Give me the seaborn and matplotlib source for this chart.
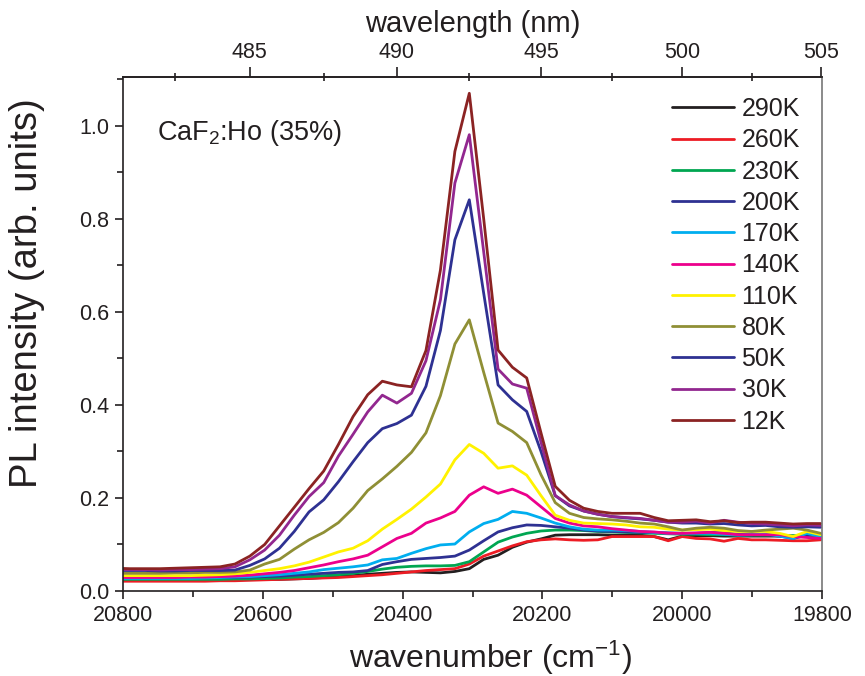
import numpy as np
import pandas as pd
import matplotlib
matplotlib.use("Agg")
import matplotlib.pyplot as plt
from matplotlib.ticker import MultipleLocator, FixedLocator
import seaborn as sns

# ---------------- data ----------------
wavelength_nm = np.arange(480.5, 505.01, 0.5)  # sampling grid (0.5 nm steps)

labels = ["290K", "260K", "230K", "200K", "170K", "140K", "110K", "80K", "50K", "30K", "12K"]
colors = ["#231f20", "#ed1c24", "#00a651", "#2e3192", "#00aeef", "#ec008c",
          "#fff200", "#8f8f35", "#2e3192", "#92278f", "#8b2323"]

I_290K = [0.024, 0.024, 0.024, 0.024, 0.024, 0.024, 0.024, 0.024, 0.025, 0.025,
          0.025, 0.025, 0.026, 0.027, 0.029, 0.031, 0.033, 0.036, 0.038, 0.040,
          0.041, 0.040, 0.039, 0.042, 0.048, 0.068, 0.077, 0.094, 0.105, 0.112,
          0.120, 0.121, 0.121, 0.121, 0.120, 0.120, 0.120, 0.117, 0.110, 0.118,
          0.119, 0.119, 0.118, 0.118, 0.118, 0.118, 0.118, 0.118, 0.117, 0.118]
I_260K = [0.021, 0.021, 0.021, 0.021, 0.021, 0.021, 0.021, 0.022, 0.022, 0.023,
          0.024, 0.025, 0.026, 0.027, 0.028, 0.029, 0.031, 0.033, 0.035, 0.038,
          0.041, 0.044, 0.046, 0.048, 0.058, 0.075, 0.086, 0.097, 0.106, 0.110,
          0.112, 0.110, 0.109, 0.110, 0.117, 0.117, 0.117, 0.117, 0.108, 0.117,
          0.113, 0.112, 0.107, 0.113, 0.110, 0.110, 0.109, 0.108, 0.108, 0.110]
I_230K = [0.025, 0.025, 0.025, 0.025, 0.025, 0.025, 0.025, 0.025, 0.026, 0.026,
          0.027, 0.028, 0.030, 0.031, 0.033, 0.035, 0.038, 0.042, 0.047, 0.051,
          0.053, 0.054, 0.054, 0.055, 0.063, 0.084, 0.105, 0.116, 0.124, 0.129,
          0.131, 0.131, 0.130, 0.128, 0.127, 0.126, 0.125, 0.124, 0.123, 0.122,
          0.122, 0.121, 0.121, 0.120, 0.120, 0.120, 0.119, 0.119, 0.119, 0.118]
I_200K = [0.030, 0.030, 0.030, 0.029, 0.029, 0.029, 0.029, 0.029, 0.029, 0.030,
          0.031, 0.032, 0.034, 0.036, 0.038, 0.040, 0.041, 0.044, 0.057, 0.063,
          0.068, 0.070, 0.072, 0.075, 0.088, 0.108, 0.127, 0.136, 0.142, 0.141,
          0.138, 0.135, 0.131, 0.129, 0.128, 0.127, 0.126, 0.126, 0.125, 0.124,
          0.124, 0.126, 0.125, 0.122, 0.121, 0.121, 0.118, 0.113, 0.120, 0.122]
I_170K = [0.027, 0.027, 0.027, 0.027, 0.027, 0.027, 0.028, 0.029, 0.030, 0.031,
          0.033, 0.035, 0.038, 0.041, 0.046, 0.049, 0.052, 0.056, 0.067, 0.070,
          0.081, 0.091, 0.099, 0.101, 0.127, 0.145, 0.154, 0.171, 0.167, 0.157,
          0.146, 0.138, 0.133, 0.131, 0.131, 0.130, 0.128, 0.126, 0.124, 0.124,
          0.124, 0.124, 0.122, 0.120, 0.121, 0.123, 0.118, 0.113, 0.124, 0.117]
I_140K = [0.029, 0.029, 0.029, 0.029, 0.029, 0.030, 0.030, 0.031, 0.032, 0.034,
          0.037, 0.040, 0.044, 0.050, 0.056, 0.063, 0.069, 0.077, 0.095, 0.113,
          0.124, 0.146, 0.157, 0.171, 0.206, 0.224, 0.210, 0.219, 0.206, 0.181,
          0.156, 0.146, 0.140, 0.138, 0.134, 0.131, 0.128, 0.127, 0.124, 0.124,
          0.125, 0.126, 0.124, 0.121, 0.121, 0.121, 0.121, 0.117, 0.115, 0.113]
I_110K = [0.033, 0.033, 0.033, 0.033, 0.033, 0.033, 0.034, 0.035, 0.037, 0.040,
          0.044, 0.048, 0.054, 0.062, 0.073, 0.084, 0.092, 0.108, 0.133, 0.154,
          0.176, 0.202, 0.230, 0.282, 0.315, 0.296, 0.264, 0.269, 0.249, 0.205,
          0.163, 0.152, 0.146, 0.145, 0.144, 0.142, 0.138, 0.137, 0.133, 0.131,
          0.132, 0.133, 0.130, 0.128, 0.128, 0.128, 0.124, 0.117, 0.128, 0.121]
I_80K = [0.038, 0.038, 0.038, 0.038, 0.039, 0.039, 0.040, 0.040, 0.041, 0.045,
         0.058, 0.068, 0.090, 0.110, 0.126, 0.147, 0.178, 0.216, 0.241, 0.268,
         0.298, 0.340, 0.420, 0.531, 0.583, 0.470, 0.361, 0.343, 0.319, 0.250,
         0.190, 0.167, 0.158, 0.155, 0.153, 0.150, 0.146, 0.144, 0.138, 0.131,
         0.135, 0.137, 0.135, 0.130, 0.128, 0.131, 0.133, 0.135, 0.131, 0.124]
I_50K = [0.044, 0.044, 0.044, 0.043, 0.043, 0.044, 0.044, 0.044, 0.045, 0.055,
         0.069, 0.092, 0.128, 0.170, 0.196, 0.235, 0.278, 0.319, 0.349, 0.360,
         0.378, 0.440, 0.560, 0.755, 0.841, 0.640, 0.443, 0.411, 0.386, 0.300,
         0.205, 0.183, 0.172, 0.165, 0.160, 0.157, 0.155, 0.152, 0.148, 0.146,
         0.146, 0.144, 0.145, 0.142, 0.140, 0.141, 0.138, 0.137, 0.138, 0.137]
I_30K = [0.046, 0.046, 0.046, 0.045, 0.046, 0.046, 0.047, 0.048, 0.052, 0.067,
         0.088, 0.120, 0.163, 0.203, 0.233, 0.290, 0.337, 0.385, 0.421, 0.404,
         0.425, 0.495, 0.626, 0.877, 0.981, 0.729, 0.477, 0.445, 0.436, 0.320,
         0.205, 0.185, 0.172, 0.165, 0.160, 0.158, 0.156, 0.152, 0.148, 0.148,
         0.150, 0.146, 0.152, 0.148, 0.145, 0.144, 0.142, 0.140, 0.142, 0.141]
I_12K = [0.049, 0.048, 0.048, 0.048, 0.049, 0.050, 0.051, 0.052, 0.058, 0.075,
         0.100, 0.140, 0.180, 0.220, 0.258, 0.315, 0.375, 0.422, 0.451, 0.443,
         0.439, 0.517, 0.690, 0.945, 1.070, 0.800, 0.518, 0.481, 0.458, 0.340,
         0.225, 0.195, 0.178, 0.171, 0.167, 0.167, 0.167, 0.158, 0.151, 0.152,
         0.153, 0.149, 0.151, 0.147, 0.148, 0.148, 0.146, 0.144, 0.145, 0.145]

series = [I_290K, I_260K, I_230K, I_200K, I_170K, I_140K, I_110K, I_80K, I_50K, I_30K, I_12K]

wavenumber = 1e7 / wavelength_nm
frames = [pd.DataFrame({"wavenumber": wavenumber, "intensity": vals, "T": lab})
          for lab, vals in zip(labels, series)]
df = pd.concat(frames, ignore_index=True)

# ---------------- style ----------------
sns.set_theme(style="ticks")
plt.rcParams["font.family"] = ["Liberation Sans", "DejaVu Sans"]
plt.rcParams["mathtext.fontset"] = "custom"
plt.rcParams["mathtext.rm"] = "Liberation Sans"
plt.rcParams["mathtext.default"] = "regular"
INK = "#231f20"

fig = plt.figure(figsize=(8.65, 6.76), dpi=100)
ax = fig.add_axes([123 / 865, 1 - 591 / 676, (822 - 123) / 865, (591 - 77) / 676])

sns.lineplot(data=df, x="wavenumber", y="intensity", hue="T", hue_order=labels,
             palette=dict(zip(labels, colors)), sort=False, estimator=None,
             linewidth=2.0, ax=ax, legend=False)

ax.set_xlim(20800, 19800)
ax.set_ylim(0, 1.105)
ax.xaxis.set_major_locator(MultipleLocator(200))
ax.xaxis.set_minor_locator(MultipleLocator(100))
ax.yaxis.set_major_locator(MultipleLocator(0.2))
ax.yaxis.set_minor_locator(MultipleLocator(0.1))
ax.yaxis.set_major_formatter(matplotlib.ticker.FormatStrFormatter("%.1f"))
ax.tick_params(axis="both", which="major", direction="out", length=6, width=1.2,
               color=INK, labelsize=15.5, labelcolor=INK, pad=4)
ax.tick_params(axis="both", which="minor", direction="out", length=4, width=1.2, color=INK)
ax.tick_params(top=False, right=False, which="both")
for s in ax.spines.values():
    s.set_color(INK)
    s.set_linewidth(1.2)
ax.spines["right"].set_color("#777777")

ax.set_xlabel("wavenumber (cm$^{-1}$)", fontsize=23, color=INK)
ax.xaxis.set_label_coords(0.525, -0.093)
ax.set_ylabel("PL intensity (arb. units)", fontsize=27.5, color=INK)
ax.yaxis.set_label_coords(-0.112, 0.58)


def wn_to_wl(x):
    x = np.asarray(x, dtype=float)
    with np.errstate(divide="ignore", invalid="ignore"):
        return 1e7 / x


secax = ax.secondary_xaxis("top", functions=(wn_to_wl, wn_to_wl))
secax.xaxis.set_major_locator(FixedLocator([485, 490, 495, 500, 505]))
secax.xaxis.set_minor_locator(FixedLocator([482.5, 487.5, 492.5, 497.5, 502.5]))
secax.tick_params(axis="x", which="major", direction="out", length=7, width=1.2,
                  color=INK, labelsize=15.5, labelcolor=INK, pad=3)
secax.tick_params(axis="x", which="minor", direction="inout", length=6, width=1.2, color=INK)
secax.spines["top"].set_color(INK)
secax.spines["top"].set_linewidth(1.2)
secax.set_xlabel("wavelength (nm)", fontsize=21, color=INK, labelpad=7)

ax.text(0.048, 0.891, "CaF$_2$:Ho (35%)", transform=ax.transAxes, fontsize=19.5,
        color=INK, ha="left", va="center")

handles = [plt.Line2D([], [], color=c, linewidth=2.0) for c in colors]
ax.legend(handles, labels, loc="upper right", bbox_to_anchor=(0.99, 0.99),
          frameon=False, fontsize=18, handlelength=2.5, handletextpad=0.3,
          labelspacing=0.29, borderaxespad=0.2, labelcolor=INK)

fig.savefig("out.png", dpi=100)
